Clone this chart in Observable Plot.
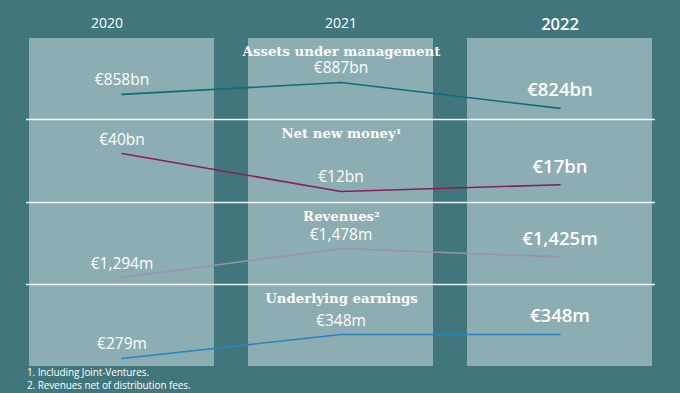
<!DOCTYPE html>
<html><head><meta charset="utf-8">
<script src="https://cdn.jsdelivr.net/npm/d3@7"></script>
<script src="https://cdn.jsdelivr.net/npm/@observablehq/plot@0.6"></script>
<style>
html,body{margin:0;padding:0;background:#41777c;width:680px;height:393px;overflow:hidden}
#chart svg{display:block;overflow:visible}
.notes{font-family:"Open Sans",sans-serif;font-size:10px;letter-spacing:-0.1px;color:#fff;padding-left:27px;line-height:12.5px;padding-top:0px}
</style></head><body><div id="chart"></div>
<div class="notes">1. Including Joint-Ventures.<br>2. Revenues net of distribution fees.</div>
<script>
const years = ["2020", "2021", "2022"];
const metrics = ["Assets under management", "Net new money¹", "Revenues²", "Underlying earnings"];
const aum = [858, 887, 824];
const netNewMoney = [40, 12, 17];
const revenues = [1294, 1478, 1425];
const earnings = [279, 348, 348];
const units = ["bn", "bn", "m", "m"];
const series = [aum, netNewMoney, revenues, earnings];
const colors = ["#0d6e7b", "#8a1d5f", "#9d8fb1", "#2b84c3"];
const domains = [[797, 994], [3.9, 65.1], [1250, 1770], [256, 492]];
const heights = [119, 83, 82, 82];

const sans = "'Open Sans', sans-serif";
function panel(i) {
  const values = series[i];
  const data = years.map((year, j) => ({year, value: values[j], label: "€" + d3.format(",")(values[j]) + units[i]}));
  const first = i === 0;
  const marks = [
    Plot.cell(years, {x: d => d, fill: "#8cadb1"}),
    first ? null : Plot.ruleY([domains[i][1]], {stroke: "#fff", strokeOpacity: 0.9, strokeWidth: 1.3, insetLeft: 15, insetRight: 16}),
    Plot.line(data, {x: "year", y: "value", stroke: colors[i], strokeWidth: 1.6}),
    Plot.text([metrics[i]], {text: d => d, frameAnchor: "top", dy: first ? 8 : 9, fill: "#fff", fontFamily: "'DejaVu Serif', serif", fontWeight: "bold", fontSize: 13.3}),
    Plot.text(data.filter(d => d.year !== "2022"), {x: "year", y: "value", text: "label", dy: -14, fill: "#fff", fontFamily: sans, fontSize: 15.5}),
    Plot.text(data.filter(d => d.year === "2022"), {x: "year", y: "value", text: "label", dy: -18, fill: "#fff", fontFamily: sans, fontSize: 18.5, fontWeight: 600})
  ];
  if (first) {
    marks.push(
      Plot.text(years.filter(d => d === "2020"), {x: d => d, text: d => d, frameAnchor: "top", dy: -20, dx: -15, fill: "#fff", fontFamily: sans, fontSize: 14}),
      Plot.text(years.filter(d => d === "2021"), {x: d => d, text: d => d, frameAnchor: "top", dy: -20, fill: "#fff", fontFamily: sans, fontSize: 14}),
      Plot.text(years.filter(d => d === "2022"), {x: d => d, text: d => d, frameAnchor: "top", dy: -20, fill: "#fff", fontFamily: sans, fontSize: 16.5, fontWeight: 600})
    );
  }
  return Plot.plot({
    width: 680, height: heights[i],
    marginTop: first ? 38 : 0, marginBottom: 0, marginLeft: 11, marginRight: 9,
    x: {type: "band", domain: years, paddingInner: 0.1545, paddingOuter: 0.0773, axis: null},
    y: {domain: domains[i], axis: null},
    style: {background: "transparent", overflow: "visible"},
    marks
  });
}
const chart = document.getElementById("chart");
series.forEach((s, i) => chart.append(panel(i)));
</script></body></html>
